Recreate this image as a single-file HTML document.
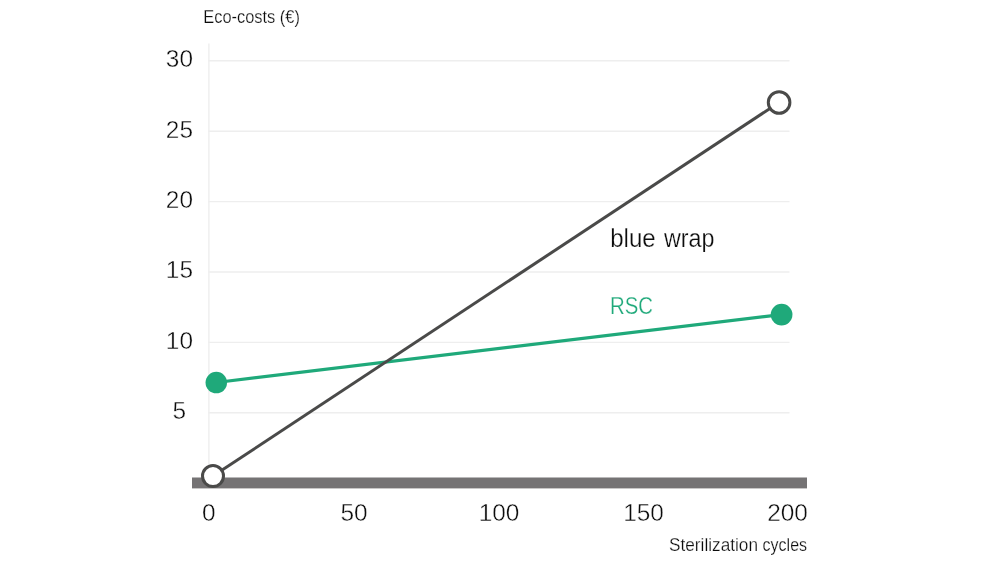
<!DOCTYPE html>
<html lang="en">
<head>
<meta charset="utf-8">
<title>Eco-costs vs. sterilization cycles</title>
<style>
  html, body { margin: 0; padding: 0; background: #ffffff; }
  body { width: 1000px; height: 563px; overflow: hidden; }
  svg { display: block; }
  text { font-family: "Liberation Sans", sans-serif; fill: #0c0c0c; stroke: #ffffff; stroke-width: 0.25px; }
  .num { font-size: 24.4px; text-anchor: middle; stroke-width: 0.4px; }
  .grid line { stroke: #eeeeee; stroke-width: 1.4; }
</style>
</head>
<body>
<svg width="1000" height="563" viewBox="0 0 1000 563">
  <rect x="0" y="0" width="1000" height="563" fill="#ffffff"/>

  <!-- grid -->
  <g class="grid">
    <line x1="208.9" y1="43.5" x2="208.9" y2="478"/>
    <line x1="208.5" y1="60.8" x2="789.5" y2="60.8"/>
    <line x1="208.5" y1="131.2" x2="789.5" y2="131.2"/>
    <line x1="208.5" y1="201.6" x2="789.5" y2="201.6"/>
    <line x1="208.5" y1="272" x2="789.5" y2="272"/>
    <line x1="208.5" y1="342.4" x2="789.5" y2="342.4"/>
    <line x1="208.5" y1="412.8" x2="789.5" y2="412.8"/>
  </g>

  <!-- x axis bar -->
  <rect x="192" y="477.5" width="615" height="10.9" fill="#757374"/>

  <!-- series: RSC -->
  <line x1="216.2" y1="382.5" x2="781.6" y2="314.6" stroke="#1fa97a" stroke-width="3.2"/>
  <circle cx="216.3" cy="382.6" r="10.75" fill="#1fa97a"/>
  <circle cx="781.6" cy="314.6" r="10.85" fill="#1fa97a"/>

  <!-- series: blue wrap -->
  <line x1="213" y1="476.1" x2="779.1" y2="102.4" stroke="#4a4a49" stroke-width="3"/>
  <circle cx="213" cy="476.1" r="10.5" fill="#ffffff" stroke="#4a4a49" stroke-width="3"/>
  <circle cx="779.1" cy="102.5" r="10.8" fill="#ffffff" stroke="#4a4a49" stroke-width="3"/>

  <!-- y axis labels -->
  <text class="num" x="179.4" y="67.2">30</text>
  <text class="num" x="179.4" y="137.6">25</text>
  <text class="num" x="179.4" y="208">20</text>
  <text class="num" x="179.4" y="278.4">15</text>
  <text class="num" x="179.4" y="348.8">10</text>
  <text class="num" x="179.4" y="419.2">5</text>

  <!-- x axis labels -->
  <text class="num" x="208.8" y="520.8">0</text>
  <text class="num" x="354.1" y="520.8">50</text>
  <text class="num" x="499" y="520.8">100</text>
  <text class="num" x="643.5" y="520.8">150</text>
  <text class="num" x="787.5" y="520.8">200</text>

  <!-- titles -->
  <text x="203.3" y="22.8" font-size="17.5" stroke-width="0.12" textLength="96.6" lengthAdjust="spacingAndGlyphs">Eco-costs (€)</text>
  <text y="550.9" font-size="18" stroke-width="0.12"><tspan x="669" textLength="89" lengthAdjust="spacingAndGlyphs">Sterilization</tspan> <tspan x="762.6" textLength="44.5" lengthAdjust="spacingAndGlyphs">cycles</tspan></text>

  <!-- series labels -->
  <text y="246.6" font-size="25.5" stroke-width="0.1"><tspan x="610.2" textLength="45.5" lengthAdjust="spacingAndGlyphs">blue</tspan> <tspan x="664" textLength="50.5" lengthAdjust="spacingAndGlyphs">wrap</tspan></text>
  <text x="610" y="314.4" font-size="24.7" textLength="43" lengthAdjust="spacingAndGlyphs" style="fill:#1fa97a" stroke-width="0.15">RSC</text>
</svg>
</body>
</html>
